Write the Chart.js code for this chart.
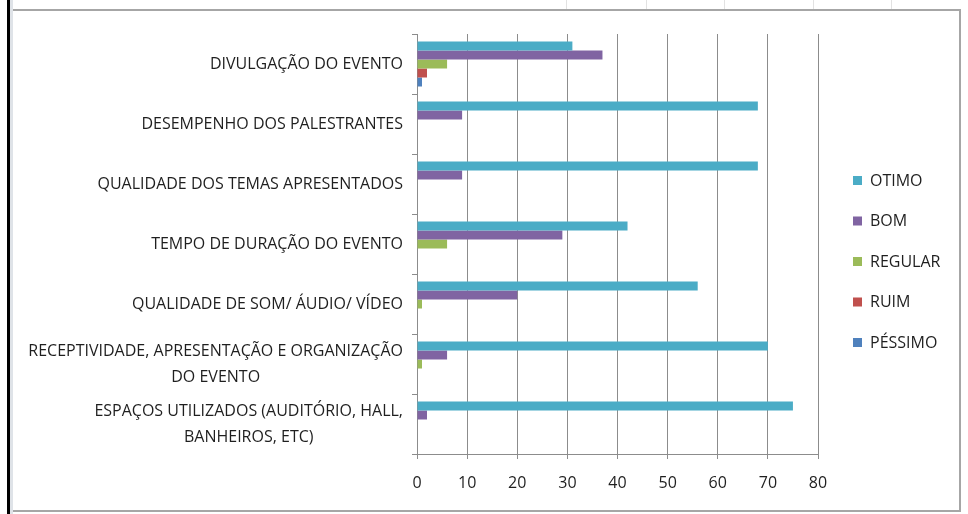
<!DOCTYPE html>
<html>
<head>
<meta charset="utf-8">
<script src="https://cdn.jsdelivr.net/npm/chart.js@4/dist/chart.umd.min.js"></script>
<style>
  body { margin: 0; width: 968px; height: 514px; background: #fff; position: relative; overflow: hidden; }
  #edge { position: absolute; left: 7px; top: 0; width: 3px; height: 514px; background: #000; }
  #strip { position: absolute; left: 10px; top: 0; width: 3px; height: 514px; background: #dfe3e8; }
  .cell { position: absolute; top: 0; width: 1px; height: 9px; background: #e2e2e2; }
  #box { position: absolute; left: 13px; top: 9px; width: 946px; height: 499px;
         border-top: 2px solid #a6a6a6; border-right: 2px solid #a6a6a6; border-bottom: 2px solid #a6a6a6; background: #fff; }
  #myChart { display: block; }
</style>
</head>
<body>
<div id="edge"></div>
<div id="strip"></div>
<div class="cell" style="left:566px"></div>
<div class="cell" style="left:646px"></div>
<div class="cell" style="left:724px"></div>
<div class="cell" style="left:813px"></div>
<div class="cell" style="left:891px"></div>
<div id="box"><canvas id="myChart" width="946" height="499"></canvas></div>

<script>
const categories = [
  ['DIVULGAÇÃO DO EVENTO'],
  ['DESEMPENHO DOS PALESTRANTES'],
  ['QUALIDADE DOS TEMAS APRESENTADOS'],
  ['TEMPO DE DURAÇÃO DO EVENTO'],
  ['QUALIDADE DE SOM/ ÁUDIO/ VÍDEO'],
  ['RECEPTIVIDADE, APRESENTAÇÃO E ORGANIZAÇÃO', 'DO EVENTO'],
  ['ESPAÇOS UTILIZADOS (AUDITÓRIO, HALL,', 'BANHEIROS, ETC)']
];

const otimo   = [31, 68, 68, 42, 56, 70, 75];
const bom     = [37,  9,  9, 29, 20,  6,  2];
const regular = [ 6,  0,  0,  6,  1,  1,  0];
const ruim    = [ 2,  0,  0,  0,  0,  0,  0];
const pessimo = [ 1,  0,  0,  0,  0,  0,  0];

const seriesNames = ['OTIMO', 'BOM', 'REGULAR', 'RUIM', 'PÉSSIMO'];
const xTicks = [0, 10, 20, 30, 40, 50, 60, 70, 80];

const colors = ['#4BACC6', '#8064A2', '#9BBB59', '#C0504D', '#4F81BD'];
const fontFamily = "'Open Sans', 'Noto Sans', sans-serif";
const textColor = '#1f1f1f';

// category labels: block right-aligned to the axis, lines centred in the block
const yLabels = {
  id: 'yLabels',
  afterDraw(chart) {
    const c = chart.ctx;
    const y = chart.scales.y;
    c.save();
    c.font = '16px ' + fontFamily;
    c.fillStyle = textColor;
    c.textAlign = 'center';
    c.textBaseline = 'middle';
    const right = chart.chartArea.left - 14;
    const lh = 26;
    categories.forEach((lines, i) => {
      const cy = y.getPixelForValue(i);
      const w = Math.max(...lines.map(l => c.measureText(l).width));
      const cx = right - w / 2;
      lines.forEach((l, k) => {
        c.fillText(l, cx, cy + (k - (lines.length - 1) / 2) * lh);
      });
    });
    c.restore();
  }
};

// legend column on the right
const sideLegend = {
  id: 'sideLegend',
  afterDraw(chart) {
    const c = chart.ctx;
    c.save();
    c.font = '16px ' + fontFamily;
    c.textBaseline = 'middle';
    c.textAlign = 'left';
    const x = 840;
    const top = 170;
    chart.data.datasets.forEach((ds, i) => {
      const yy = top + i * 40.5;
      c.fillStyle = ds.backgroundColor;
      c.fillRect(x, yy - 5, 9, 9);
      c.fillStyle = textColor;
      c.fillText(ds.label, x + 17, yy);
    });
    c.restore();
  }
};

const ctx = document.getElementById('myChart').getContext('2d');
const seriesData = [otimo, bom, regular, ruim, pessimo];

const myChart = new Chart(ctx, {
  type: 'bar',
  data: {
    labels: categories.map(l => l.join(' ')),
    datasets: seriesNames.map((name, i) => ({
      label: name,
      data: seriesData[i],
      backgroundColor: colors[i],
      borderWidth: 0,
      categoryPercentage: 0.75,
      barPercentage: 1.0
    }))
  },
  options: {
    indexAxis: 'y',
    responsive: false,
    animation: false,
    layout: { padding: { top: 23, right: 141, left: 0, bottom: 0 } },
    plugins: {
      legend: { display: false },
      tooltip: { enabled: false }
    },
    scales: {
      x: {
        min: 0,
        max: 80,
        afterBuildTicks: s => { s.ticks = xTicks.map(v => ({ value: v })); },
        afterFit: s => { s.height = 56; },
        grid: { color: '#8c8c8c', lineWidth: 1, tickLength: 5, drawTicks: true },
        border: { display: true, color: '#8c8c8c' },
        ticks: { padding: 15, color: textColor, font: { family: fontFamily, size: 16 } }
      },
      y: {
        afterFit: s => { s.width = 404; },
        grid: { offset: true, drawOnChartArea: false, color: '#8c8c8c', tickLength: 5 },
        border: { display: true, color: '#8c8c8c' },
        ticks: { display: false }
      }
    }
  },
  plugins: [yLabels, sideLegend]
});
</script>
</body>
</html>
